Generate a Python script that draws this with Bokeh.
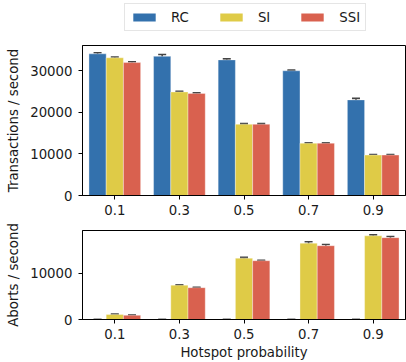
from bokeh.plotting import figure
from bokeh.models import (ColumnDataSource, FactorRange, Range1d, Whisker, TeeHead,
                          FixedTicker, Legend, LegendItem)
from bokeh.transform import dodge
from bokeh.layouts import column
from bokeh.embed import file_html
from bokeh.resources import INLINE

categories = ["0.1", "0.3", "0.5", "0.7", "0.9"]
series = ["RC", "SI", "SSI"]
colors = ["#3371ad", "#dfcb47", "#d9614f"]

tps_rc = [34000, 33400, 32550, 29930, 22950]
tps_si = [33050, 24850, 17100, 12550, 9700]
tps_ssi = [31900, 24500, 17100, 12550, 9700]
tps_rc_err = [250, 450, 250, 150, 350]
tps_si_err = [200, 150, 150, 100, 100]
tps_ssi_err = [200, 150, 150, 100, 100]

abort_rc = [0, 0, 0, 0, 0]
abort_si = [1100, 7450, 13300, 16550, 18150]
abort_ssi = [900, 6900, 12750, 16000, 17750]
abort_rc_err = [0, 0, 0, 0, 0]
abort_si_err = [80, 80, 200, 300, 200]
abort_ssi_err = [60, 60, 100, 250, 250]

tps_ticks = [0, 10000, 20000, 30000]
abort_ticks = [0, 10000]

FONT = "DejaVu Sans"
FS = "13.3px"
TXT = "#1a1a1a"
W = 0.8 / 3
offsets = [-W, 0, W]
WIDTH = 406


def style(p, ticks):
    p.grid.visible = False
    p.outline_line_color = "black"
    p.outline_line_width = 1
    p.background_fill_color = "white"
    p.border_fill_color = "white"
    for ax in (p.xaxis[0], p.yaxis[0]):
        ax.axis_line_color = "black"
        ax.major_tick_line_color = "black"
        ax.major_tick_out = 4
        ax.major_tick_in = 0
        ax.minor_tick_line_color = None
        ax.major_label_text_font = FONT
        ax.major_label_text_font_size = FS
        ax.major_label_text_color = TXT
        ax.axis_label_text_font = FONT
        ax.axis_label_text_font_size = FS
        ax.axis_label_text_font_style = "normal"
        ax.axis_label_text_color = TXT
    p.yaxis[0].ticker = FixedTicker(ticks=ticks)
    p.yaxis[0].major_label_standoff = 6
    p.yaxis[0].axis_label_standoff = 6
    p.xaxis[0].major_label_standoff = 5


def draw(p, vals, errs):
    for s, c, off, v, e in zip(series, colors, offsets, vals, errs):
        src = ColumnDataSource(dict(cat=categories, val=v,
                                    up=[a + b for a, b in zip(v, e)],
                                    lo=[a - b for a, b in zip(v, e)]))
        p.vbar(x=dodge("cat", off, range=p.x_range), top="val", bottom=0,
               width=W, source=src, fill_color=c, line_color="white",
               line_alpha=0.35, line_width=1)
        wk = Whisker(source=src, base=dodge("cat", off, range=p.x_range),
                     upper="up", lower="lo", line_color="#444444", line_width=1.6,
                     upper_head=TeeHead(size=8, line_color="#444444", line_width=1.6),
                     lower_head=TeeHead(size=8, line_color="#444444", line_width=1.6))
        p.add_layout(wk)


# legend strip (its zero-size bars lie outside its visible y range; only the key shows)
pl = figure(width=WIDTH, height=40, x_range=FactorRange(*categories, range_padding=0),
            y_range=Range1d(-72000, -36000), x_axis_type=None, y_axis_type=None,
            min_border_left=82, min_border_right=1, min_border_top=0,
            min_border_bottom=0, output_backend="svg", toolbar_location=None)
pl.grid.visible = False
pl.outline_line_color = None
items = []
for s, c, off, v in zip(series, colors, offsets, [tps_rc, tps_si, tps_ssi]):
    src = ColumnDataSource(dict(cat=categories, val=v))
    r = pl.vbar(x=dodge("cat", off, range=pl.x_range), top="val", bottom="val",
                width=0, source=src, fill_color=c, line_color=None)
    items.append(LegendItem(label=s, renderers=[r]))
legend = Legend(items=items, orientation="horizontal", location=(42, 9),
                label_text_font=FONT, label_text_font_size=FS,
                label_text_color=TXT, glyph_width=28, glyph_height=10,
                label_standoff=13, spacing=28, padding=5, margin=0,
                label_width=12, label_height=16,
                border_line_color="#cccccc", border_line_width=1,
                background_fill_alpha=1)
pl.add_layout(legend, "center")

p1 = figure(x_range=FactorRange(*categories, range_padding=0),
            y_range=Range1d(0, 36000), width=WIDTH, height=182,
            min_border_left=82, min_border_right=1, min_border_top=5,
            min_border_bottom=27, output_backend="svg", toolbar_location=None)
style(p1, tps_ticks)
p1.yaxis[0].axis_label = "Transactions / second"
draw(p1, [tps_rc, tps_si, tps_ssi], [tps_rc_err, tps_si_err, tps_ssi_err])

p2 = figure(x_range=FactorRange(*categories, range_padding=0),
            y_range=Range1d(0, 19300), width=WIDTH, height=140,
            min_border_left=82, min_border_right=1, min_border_top=8,
            min_border_bottom=42, output_backend="svg", toolbar_location=None)
style(p2, abort_ticks)
p2.yaxis[0].axis_label = "Aborts / second"
p2.xaxis[0].axis_label = "Hotspot probability"
p2.xaxis[0].axis_label_standoff = 3
draw(p2, [abort_rc, abort_si, abort_ssi], [abort_rc_err, abort_si_err, abort_ssi_err])

layout = column(pl, p1, p2, spacing=0)
open("out.html", "w").write(file_html(layout, INLINE))
